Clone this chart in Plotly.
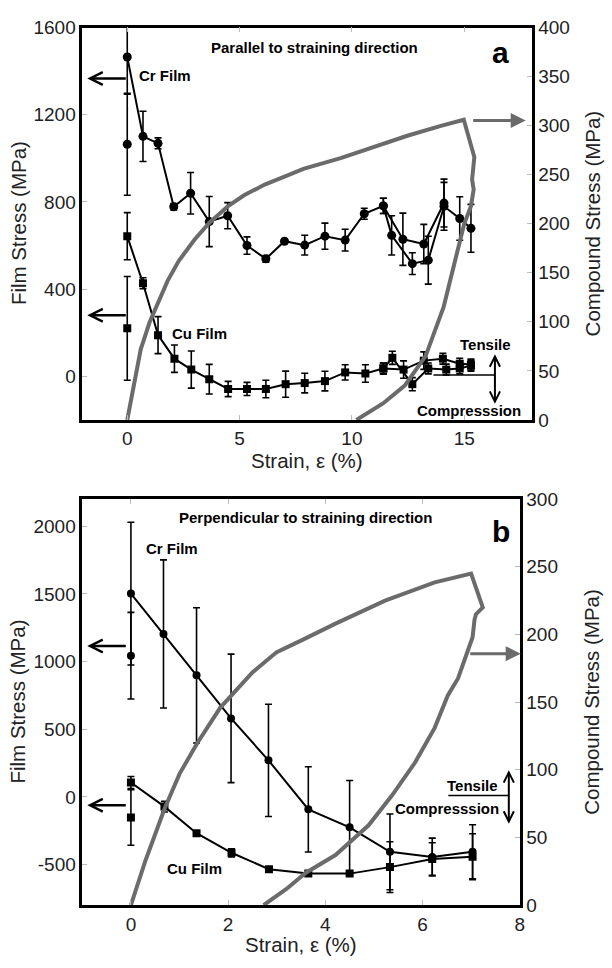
import plotly.graph_objects as go

W, H = 612, 968

# ---------------- Panel a: parallel to straining direction ----------------
cr_par_x = [0, 0.70, 1.37, 2.07, 2.82, 3.65, 4.47, 5.33, 6.17, 7.0, 7.9, 8.8, 9.7, 10.55, 11.4, 11.77, 12.69, 13.4, 14.1, 14.8, 15.3]
cr_par_y = [1465, 1101, 1069, 778, 840, 710, 737, 600, 539, 620, 602, 643, 625, 746, 782, 647, 517, 533, 780, 724, 679]
cr_par_err = [170, 115, 25, 15, 95, 115, 60, 40, 15, 10, 45, 60, 50, 25, 35, 90, 50, 110, 110, 100, 110]
cr_par_b_x = [11.4, 12.27, 13.2, 14.1]
cr_par_b_y = [782, 629, 607, 795]
cr_par_b_err = [35, 120, 90, 110]
cr_par_extra_x = [0]
cr_par_extra_y = [1065]
cr_par_extra_err = [234]

cu_par_x = [0, 0.70, 1.37, 2.1, 2.85, 3.65, 4.49, 5.33, 6.17, 7.05, 7.9, 8.8, 9.7, 10.6, 11.4, 11.8, 12.69, 13.4, 14.2, 14.8, 15.3]
cu_par_y = [643, 427, 189, 81, 31, -13, -58, -58, -58, -36, -31, -22, 18, 13, 36, 85, -36, 36, 31, 36, 49]
cu_par_err = [108, 25, 85, 63, 85, 68, 35, 30, 40, 60, 45, 45, 35, 40, 25, 30, 30, 25, 25, 25, 25]
cu_par_b_x = [11.4, 12.3, 13.2, 14.05, 14.8, 15.3]
cu_par_b_y = [36, 31, 72, 81, 58, 54]
cu_par_b_err = [25, 40, 40, 25, 25, 25]
cu_par_extra_x = [0]
cu_par_extra_y = [220]
cu_par_extra_err = [238]

comp_par_x = [0, 0.22, 0.6, 1.0, 1.37, 1.8, 2.29, 3.0, 3.66, 4.49, 5.2, 6.12, 7.0, 7.84, 9.5, 11.0, 12.5, 14.0, 14.98,
              15.45, 15.35, 15.42, 15.3, 15.0, 14.76, 14.08, 13.28, 12.35, 11.4, 10.8, 10.2]
comp_par_y = [0, 26, 72, 100, 119, 142, 162, 184, 201, 218, 229, 240, 248, 256, 267, 279, 290, 300, 306,
              268, 245, 235, 218, 200, 178, 115, 65, 35, 17, 8, 0]

# ---------------- Panel b: perpendicular to straining direction ----------------
cr_perp_x = [0, 0.67, 1.35, 2.06, 2.83, 3.65, 4.5, 5.33, 6.2, 7.03]
cr_perp_y = [1502, 1204, 898, 580, 270, -92, -225, -406, -445, -406]
cr_perp_err = [527, 547, 500, 475, 415, 315, 346, 280, 140, 200]
cr_perp_extra_x = [0]
cr_perp_extra_y = [1043]
cr_perp_extra_err = [320]

cu_perp_x = [0, 0.69, 1.35, 2.07, 2.84, 3.65, 4.5, 5.33, 6.2, 7.03]
cu_perp_y = [106, -72, -268, -413, -534, -567, -567, -519, -459, -442]
cu_perp_err = [45, 40, 15, 30, 15, 10, 10, 187, 120, 170]
cu_perp_extra_x = [0]
cu_perp_extra_y = [-152]
cu_perp_extra_err = [205]

comp_perp_x = [0, 0.3, 0.69, 1.0, 1.37, 1.84, 2.5, 3.0, 3.53, 4.21, 5.23, 6.25, 7.0,
               7.24, 7.1, 7.07, 7.03, 6.73, 6.52, 6.25, 5.84, 5.37, 4.89, 4.21, 3.6, 3.2, 2.73]
comp_perp_y = [0, 33, 71, 97, 120, 146, 172, 187, 196, 208, 225, 238.5, 245,
               220, 215, 211, 198, 167.5, 155, 131, 105, 81, 59, 37, 24, 12, 0]

# tick labels
par_x_ticks = [0, 5, 10, 15]
par_left_ticks = [0, 400, 800, 1200, 1600]
par_right_ticks = [0, 50, 100, 150, 200, 250, 300, 350, 400]
perp_x_ticks = [0, 2, 4, 6, 8]
perp_left_ticks = [-500, 0, 500, 1000, 1500, 2000]
perp_right_ticks = [0, 50, 100, 150, 200, 250, 300]

FONT = "Liberation Sans, Arial, sans-serif"
GRAY = "#6b6b6b"


def px(x):
    return x / W


def py(y):
    return 1 - y / H


fig = go.Figure()


def film(x, y, err, symbol, xa, ya, mode="lines+markers", size=9):
    fig.add_trace(go.Scatter(
        x=x, y=y, mode=mode, xaxis=xa, yaxis=ya,
        line=dict(color="black", width=2),
        marker=dict(symbol=symbol, size=size, color="black"),
        error_y=dict(type="data", array=err, visible=True, color="black", thickness=1.6, width=3.5),
        showlegend=False, hoverinfo="skip"))


# compound curves (behind)
fig.add_trace(go.Scatter(x=comp_par_x, y=comp_par_y, mode="lines", xaxis="x", yaxis="y2",
                         line=dict(color=GRAY, width=4), showlegend=False, hoverinfo="skip"))
fig.add_trace(go.Scatter(x=comp_perp_x, y=comp_perp_y, mode="lines", xaxis="x2", yaxis="y4",
                         line=dict(color=GRAY, width=4), showlegend=False, hoverinfo="skip"))

# panel a films
film(cr_par_x, cr_par_y, cr_par_err, "circle", "x", "y")
film(cr_par_b_x, cr_par_b_y, cr_par_b_err, "circle", "x", "y")
film(cr_par_extra_x, cr_par_extra_y, cr_par_extra_err, "circle", "x", "y", mode="markers")
film(cu_par_x, cu_par_y, cu_par_err, "square", "x", "y", size=8)
film(cu_par_b_x, cu_par_b_y, cu_par_b_err, "square", "x", "y", size=8)
film(cu_par_extra_x, cu_par_extra_y, cu_par_extra_err, "square", "x", "y", mode="markers", size=8)

# panel b films
film(cr_perp_x, cr_perp_y, cr_perp_err, "circle", "x2", "y3", size=8)
film(cr_perp_extra_x, cr_perp_extra_y, cr_perp_extra_err, "circle", "x2", "y3", mode="markers", size=8)
film(cu_perp_x, cu_perp_y, cu_perp_err, "square", "x2", "y3", size=8)
film(cu_perp_extra_x, cu_perp_extra_y, cu_perp_extra_err, "square", "x2", "y3", mode="markers", size=8)

axis_common = dict(showline=True, linecolor="black", linewidth=2.5, showgrid=False, zeroline=False,
                   ticks="inside", ticklen=5, tickcolor="#bbbbbb", tickwidth=1,
                   tickfont=dict(family=FONT, size=19, color="#222"))

fig.update_layout(
    width=W, height=H, margin=dict(l=0, r=0, t=0, b=0),
    paper_bgcolor="white", plot_bgcolor="white",
    font=dict(family=FONT, color="black"),
    xaxis=dict(domain=[px(83), px(536)], anchor="y", range=[-2, 18], tickvals=par_x_ticks,
               ticktext=[str(v) for v in par_x_ticks], mirror="ticks", **axis_common),
    yaxis=dict(domain=[py(419), py(18)], anchor="x", range=[-200, 1600], tickvals=par_left_ticks,
               ticktext=[str(v) for v in par_left_ticks], **axis_common),
    yaxis2=dict(overlaying="y", side="right", anchor="x", range=[0, 400], tickvals=par_right_ticks,
                ticktext=[str(v) for v in par_right_ticks], **axis_common),
    xaxis2=dict(domain=[px(83), px(524)], anchor="y3", range=[-1, 8], tickvals=perp_x_ticks,
                ticktext=[str(v) for v in perp_x_ticks], mirror="ticks", **axis_common),
    yaxis3=dict(domain=[py(915), py(500)], anchor="x2", range=[-800, 2200], tickvals=perp_left_ticks,
                ticktext=[str(v) for v in perp_left_ticks], **axis_common),
    yaxis4=dict(overlaying="y3", side="right", anchor="x2", range=[0, 300], tickvals=perp_right_ticks,
                ticktext=[str(v) for v in perp_right_ticks], **axis_common),
)

ann = []


def text(x, y, t, size=15, angle=0, bold=True, color="black"):
    ann.append(dict(x=px(x), y=py(y), xref="paper", yref="paper", text=(f"<b>{t}</b>" if bold else t),
                    showarrow=False, textangle=angle, xanchor="center", yanchor="middle",
                    font=dict(family=FONT, size=size, color=color)))


def arrow(hx, hy, tx, ty, color="black", head=5, width=2.5, both=False, size=1.0):
    ann.append(dict(x=px(hx), y=py(hy), xref="paper", yref="paper", text="", showarrow=True,
                    ax=tx - hx, ay=ty - hy, axref="pixel", ayref="pixel",
                    arrowhead=head, startarrowhead=head, arrowsize=size, startarrowsize=size,
                    arrowwidth=width, arrowcolor=color,
                    arrowside="end+start" if both else "end", standoff=0, startstandoff=0))


# axis titles
TS = 20.5
for cy in (218, 707):
    text(18, cy, "Film Stress (MPa)", size=TS, angle=-90, bold=False, color="#222")
    text(597, cy, "Compound Stress (MPa)", size=TS, angle=-90, bold=False, color="#222")
text(310, 461, "Strain, ε (%)", size=TS, bold=False, color="#222")
text(303, 955, "Strain, ε (%)", size=TS, bold=False, color="#222")

# panel a annotations
text(317, 38, "Parallel to straining direction", size=15)
text(505, 43, "a", size=30)
text(166, 67, "Cr Film", size=15)
text(201, 331, "Cu Film", size=15)
text(490, 342, "Tensile", size=15)
text(473, 409, "Compresssion", size=15)
arrow(88, 70, 128, 70)
arrow(88, 312, 128, 312)
arrow(530, 113, 476, 113, color=GRAY, head=2, width=3)
arrow(499, 352, 499, 403, both=True, width=2)

# panel b annotations
text(308, 519, "Perpendicular to straining direction", size=15)
text(505, 533, "b", size=30)
text(173, 550, "Cr Film", size=15)
text(196, 878, "Cu Film", size=15)
text(476, 793, "Tensile", size=15)
text(451, 816, "Compresssion", size=15)
arrow(88, 650, 128, 650)
arrow(88, 813, 128, 813)
arrow(525, 658, 473, 658, color=GRAY, head=2, width=3)
arrow(513, 777, 513, 832, both=True, width=2)

fig.update_layout(annotations=ann, shapes=[
    dict(type="line", xref="paper", yref="paper", x0=px(437), x1=px(499), y0=py(373), y1=py(373),
         line=dict(color="black", width=1.5)),
    dict(type="line", xref="paper", yref="paper", x0=px(452), x1=px(513), y0=py(803), y1=py(803),
         line=dict(color="black", width=1.5)),
])

fig.write_html("out.html", config={"displayModeBar": False},
               post_script="document.body.style.margin='0';document.body.style.overflow='hidden';")
